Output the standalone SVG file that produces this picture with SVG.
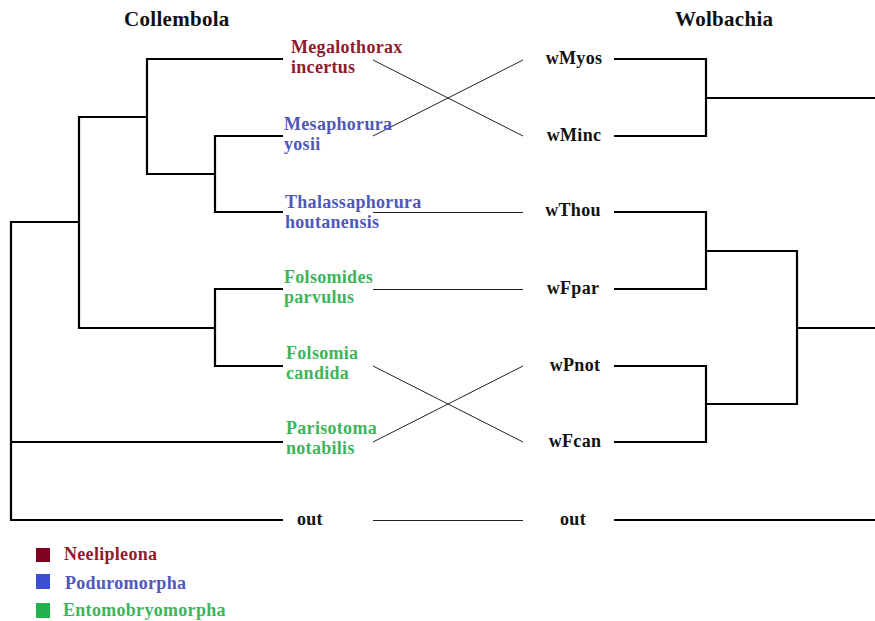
<svg xmlns="http://www.w3.org/2000/svg" width="875" height="621" viewBox="0 0 875 621">
<style>
text{font-family:"Liberation Serif","Times New Roman",serif;font-weight:bold;font-size:18px;letter-spacing:0.3px}
.h{font-size:21px;fill:#111}
.k{fill:#111}
.r{fill:#8e1b2e}
.b{fill:#5058b8}
.g{fill:#3db55c}
.w{text-anchor:middle}
.tree{stroke:#000;stroke-width:2.2;fill:none}
.link{stroke:#222;stroke-width:1;fill:none}
</style>
<rect width="875" height="621" fill="#fff"/>
<text class="h" x="124" y="26">Collembola</text>
<text class="h" x="675" y="26">Wolbachia</text>
<g id="connectors">
<g class="tree">
<path d="M283 59H147V174H215"/>
<path d="M283 136H215V212H283"/>
<path d="M147 117H79V328H215"/>
<path d="M283 289H215V366H283"/>
<path d="M79 222H11V520H283"/>
<path d="M11 442H283"/>
<path d="M614 59H706V136H614"/>
<path d="M706 98H875"/>
<path d="M614 212H706V289H614"/>
<path d="M706 251H797V404H706"/>
<path d="M614 366H706V442H614"/>
<path d="M797 328H875"/>
<path d="M614 520H875"/>
</g>
<g class="link">
<path d="M373 60L523 136"/>
<path d="M373 136L523 60"/>
<path d="M373 212.5H523"/>
<path d="M373 289.5H523"/>
<path d="M373 366L523 442"/>
<path d="M373 442L523 366"/>
<path d="M373 520.5H523"/>
</g>
</g>
<g id="n-megalothorax"><text class="r" x="291" y="53">Megalothorax</text><text class="r" x="291" y="73">incertus</text></g>
<g id="n-mesaphorura"><text class="b" x="284" y="130">Mesaphorura</text><text class="b" x="284" y="150">yosii</text></g>
<g id="n-thalassaphorura"><text class="b" x="285" y="208">Thalassaphorura</text><text class="b" x="285" y="228">houtanensis</text></g>
<g id="n-folsomides"><text class="g" x="284" y="283">Folsomides</text><text class="g" x="284" y="303">parvulus</text></g>
<g id="n-folsomia"><text class="g" x="286" y="359">Folsomia</text><text class="g" x="286" y="379">candida</text></g>
<g id="n-parisotoma"><text class="g" x="286" y="434">Parisotoma</text><text class="g" x="286" y="454">notabilis</text></g>
<g id="n-out-left"><text class="k" x="297" y="525">out</text></g>
<g id="n-wmyos"><text class="k w" x="574" y="64">wMyos</text></g>
<g id="n-wminc"><text class="k w" x="574" y="141">wMinc</text></g>
<g id="n-wthou"><text class="k w" x="573" y="216">wThou</text></g>
<g id="n-wfpar"><text class="k w" x="573" y="294">wFpar</text></g>
<g id="n-wpnot"><text class="k w" x="575" y="371">wPnot</text></g>
<g id="n-wfcan"><text class="k w" x="575" y="447">wFcan</text></g>
<g id="n-out-right"><text class="k w" x="573" y="525">out</text></g>
<g id="legend">
<rect x="36" y="548" width="14" height="14" fill="#800020"/>
<text class="r" x="64" y="560">Neelipleona</text>
<rect x="36" y="574" width="14" height="15" fill="#3c4fd0"/>
<text class="b" x="65" y="589">Poduromorpha</text>
<rect x="36" y="603" width="14" height="15" fill="#22b14c"/>
<text class="g" x="63" y="616">Entomobryomorpha</text>
</g>
</svg>
